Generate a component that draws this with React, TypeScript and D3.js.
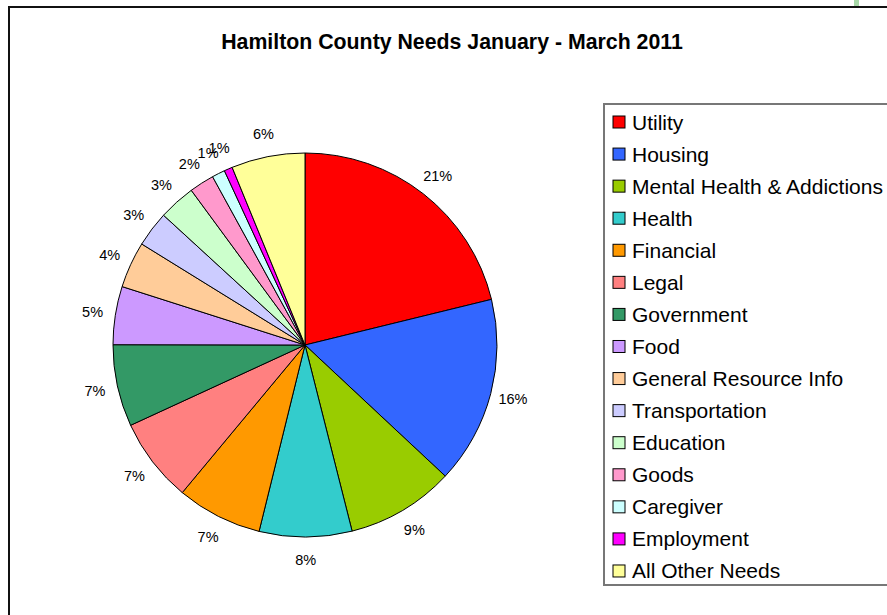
import React, { useEffect, useRef } from "react";
import * as d3 from "d3";

const categories = [
  "Utility",
  "Housing",
  "Mental Health & Addictions",
  "Health",
  "Financial",
  "Legal",
  "Government",
  "Food",
  "General Resource Info",
  "Transportation",
  "Education",
  "Goods",
  "Caregiver",
  "Employment",
  "All Other Needs",
];

const shares = [21.2, 15.8, 9.1, 7.8, 7.2, 7.1, 6.9, 4.9, 3.9, 3.0, 3.1, 2.1, 1.1, 0.7, 6.2];

const colors = [
  "#FF0000",
  "#3366FF",
  "#99CC00",
  "#33CCCC",
  "#FF9900",
  "#FF8080",
  "#339966",
  "#CC99FF",
  "#FFCC99",
  "#CCCCFF",
  "#CCFFCC",
  "#FF99CC",
  "#CCFFFF",
  "#FF00FF",
  "#FFFF99",
];

const title = "Hamilton County Needs January - March 2011";

const W = 887;
const H = 615;
const FONT = "'Liberation Sans', Arial, sans-serif";

export default function App() {
  const ref = useRef<SVGSVGElement>(null);

  useEffect(() => {
    const svg = d3.select(ref.current);
    svg.selectAll("*").remove();

    svg.append("rect").attr("x", 0).attr("y", 0).attr("width", W).attr("height", H).attr("fill", "#fff");

    // small green artifact at top
    svg.append("rect").attr("x", 854).attr("y", 0).attr("width", 5).attr("height", 6).attr("fill", "#a8d8a8");

    // chart area border
    svg
      .append("path")
      .attr("d", `M9,${H + 5} L9,7 L${W + 5},7`)
      .attr("fill", "none")
      .attr("stroke", "#111")
      .attr("stroke-width", 2);

    svg
      .append("text")
      .attr("x", 452)
      .attr("y", 49)
      .attr("text-anchor", "middle")
      .attr("font-family", FONT)
      .attr("font-weight", "bold")
      .attr("font-size", 21.3)
      .attr("fill", "#000")
      .text(title);

    const cx = 305;
    const cy = 345;
    const r = 192;
    const total = d3.sum(shares);

    const pie = d3
      .pie<number>()
      .sort(null)
      .value((d) => d)
      .startAngle(0)
      .endAngle(2 * Math.PI);
    const arcs = pie(shares);
    const arc = d3.arc<d3.PieArcDatum<number>>().innerRadius(0).outerRadius(r);
    const labelArc = d3.arc<d3.PieArcDatum<number>>().innerRadius(215).outerRadius(215);

    const g = svg.append("g").attr("transform", `translate(${cx},${cy})`);
    g.selectAll("path.slice")
      .data(arcs)
      .join("path")
      .attr("class", "slice")
      .attr("d", arc as any)
      .attr("fill", (_d, i) => colors[i])
      .attr("stroke", "#000")
      .attr("stroke-width", 1)
      .attr("stroke-linejoin", "round");

    g.selectAll("text.lbl")
      .data(arcs)
      .join("text")
      .attr("class", "lbl")
      .attr("x", (d) => labelArc.centroid(d)[0])
      .attr("y", (d) => labelArc.centroid(d)[1])
      .attr("text-anchor", "middle")
      .attr("dominant-baseline", "central")
      .attr("font-family", FONT)
      .attr("font-size", 14.5)
      .attr("fill", "#000")
      .text((d) => `${Math.round((d.data / total) * 100)}%`);

    // legend
    const lx = 604;
    const ly = 104;
    svg
      .append("path")
      .attr("d", `M${W + 5},${ly} L${lx},${ly} L${lx},585 L${W + 5},585`)
      .attr("fill", "none")
      .attr("stroke", "#777")
      .attr("stroke-width", 2);

    const step = 32.07;
    const lg = svg.append("g");
    categories.forEach((c, i) => {
      const y = 122 + i * step;
      lg.append("rect")
        .attr("x", 613)
        .attr("y", y - 6)
        .attr("width", 12)
        .attr("height", 12)
        .attr("fill", colors[i])
        .attr("stroke", "#000")
        .attr("stroke-width", 1);
      lg.append("text")
        .attr("x", 632)
        .attr("y", y)
        .attr("dominant-baseline", "central")
        .attr("font-family", FONT)
        .attr("font-size", 21)
        .attr("fill", "#000")
        .text(c);
    });
  }, []);

  return (
    <div style={{ position: "absolute", left: 0, top: 0, width: W, height: H, overflow: "hidden" }}>
      <svg ref={ref} width={W} height={H} style={{ display: "block" }} />
    </div>
  );
}
